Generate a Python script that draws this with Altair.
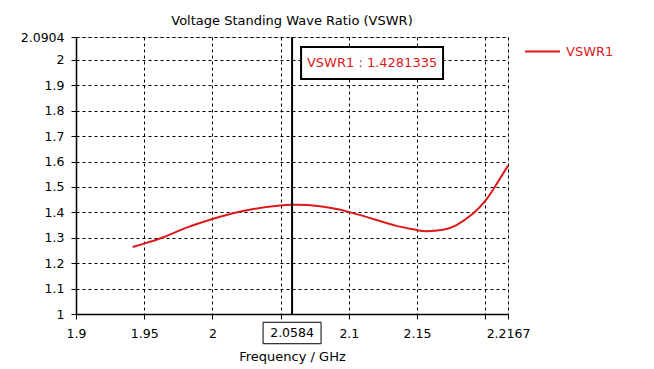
import altair as alt
import pandas as pd

# ---- data ----
freq = [1.9415, 1.9493, 1.9640, 1.9811, 2.0000, 2.0104, 2.0299, 2.0495, 2.0580,
        2.0700, 2.0861, 2.1000, 2.1203, 2.1350, 2.1503, 2.1569, 2.1691, 2.1789,
        2.1911, 2.2000, 2.2070, 2.2167]
vswr = [1.264, 1.276, 1.302, 1.340, 1.374, 1.390, 1.413, 1.427, 1.430,
        1.429, 1.418, 1.402, 1.370, 1.347, 1.330, 1.326, 1.332, 1.350,
        1.396, 1.445, 1.500, 1.584]
series_name = "VSWR1"
x_ticks = [1.9, 1.95, 2.0, 2.05, 2.1, 2.15, 2.2, 2.2167]
y_ticks = [1.0, 1.1, 1.2, 1.3, 1.4, 1.5, 1.6, 1.7, 1.8, 1.9, 2.0, 2.0904]
x_domain = [1.9, 2.2167]
y_domain = [1.0, 2.0904]
marker_freq = [2.0584]
marker_label = ["2.0584"]
marker_value_text = ["VSWR1 : 1.4281335"]
title_text = "Voltage Standing Wave Ratio (VSWR)"
x_title = "Frequency / GHz"

RED = "#dc1a1a"
FONT = "DejaVu Sans"

df = pd.DataFrame({"freq": freq, "vswr": vswr, "series": [series_name] * len(freq)})
mk = pd.DataFrame({"f": marker_freq, "lab": marker_label, "val": marker_value_text})

xscale = alt.Scale(domain=x_domain, nice=False, zero=False)
yscale = alt.Scale(domain=y_domain, nice=False, zero=False)

xaxis = alt.Axis(
    values=x_ticks,
    labelExpr="(datum.value == 2.05 || datum.value == 2.2) ? '' : format(datum.value, '.6~g')",
    grid=True, gridColor="black", gridDash=[3, 3], gridWidth=1, gridOpacity=1,
    domainColor="black", domainWidth=1.5, tickColor="black", tickSize=5,
    labelFont=FONT, labelFontSize=12.5, labelColor="black", labelPadding=8,
    labelFlush=False, labelOverlap=False,
    titleFont=FONT, titleFontSize=13, titleFontWeight="normal", titleColor="black",
    titlePadding=11,
)
yaxis = alt.Axis(
    values=y_ticks,
    labelExpr="format(datum.value, '.6~g')",
    grid=True, gridColor="black", gridDash=[3, 3], gridWidth=1, gridOpacity=1,
    domainColor="black", domainWidth=1.5, tickColor="black", tickSize=5,
    labelFont=FONT, labelFontSize=12.5, labelColor="black", labelPadding=7,
    labelFlush=False, labelOverlap=False,
)

line = alt.Chart(df).mark_line(strokeWidth=2, interpolate="natural").encode(
    x=alt.X("freq:Q", scale=xscale, axis=xaxis, title=x_title),
    y=alt.Y("vswr:Q", scale=yscale, axis=yaxis, title=None),
    color=alt.Color(
        "series:N", scale=alt.Scale(range=[RED]),
        legend=alt.Legend(
            title=None, orient="none", legendX=448, legendY=-4, padding=0,
            symbolType="stroke", symbolSize=1225, symbolStrokeWidth=2,
            labelFont=FONT, labelFontSize=13, labelColor=RED, labelOffset=5,
        ),
    ),
)

rule = alt.Chart(mk).mark_rule(color="black", strokeWidth=2).encode(
    x=alt.X("f:Q", scale=xscale)
)

val_box = alt.Chart(mk).mark_point(
    shape="M-1,-0.225H1V0.225H-1Z", size=142 * 142, filled=True,
    fill="white", stroke="black", strokeWidth=2, opacity=1,
).encode(x=alt.X("f:Q", scale=xscale), xOffset=alt.value(80), y=alt.value(26))

val_text = alt.Chart(mk).mark_text(
    font=FONT, fontSize=13, color=RED, align="center", baseline="middle",
).encode(x=alt.X("f:Q", scale=xscale), xOffset=alt.value(80), y=alt.value(26),
         text="val:N")

lab_box = alt.Chart(mk).mark_point(
    shape="M-1,-0.37H1V0.37H-1Z", size=58 * 58, filled=True,
    fill="white", stroke="black", strokeWidth=1, opacity=1,
).encode(x=alt.X("f:Q", scale=xscale), y=alt.value(296))

lab_text = alt.Chart(mk).mark_text(
    font=FONT, fontSize=12.5, color="black", align="center", baseline="middle",
).encode(x=alt.X("f:Q", scale=xscale), y=alt.value(296), text="lab:N")

chart = alt.layer(line, rule, val_box, val_text, lab_box, lab_text).properties(
    width=432, height=277,
    title=alt.TitleParams(title_text, font=FONT, fontSize=13, fontWeight="normal",
                          color="black", anchor="middle", frame="group", offset=3),
    padding={"left": 68, "top": 29, "right": 110, "bottom": 50},
    autosize=alt.AutoSizeParams(type="none"),
).configure_view(stroke="black", strokeWidth=1.5).configure(background="white")

chart.save("out.html", embed_options={"renderer": "svg", "actions": False})
